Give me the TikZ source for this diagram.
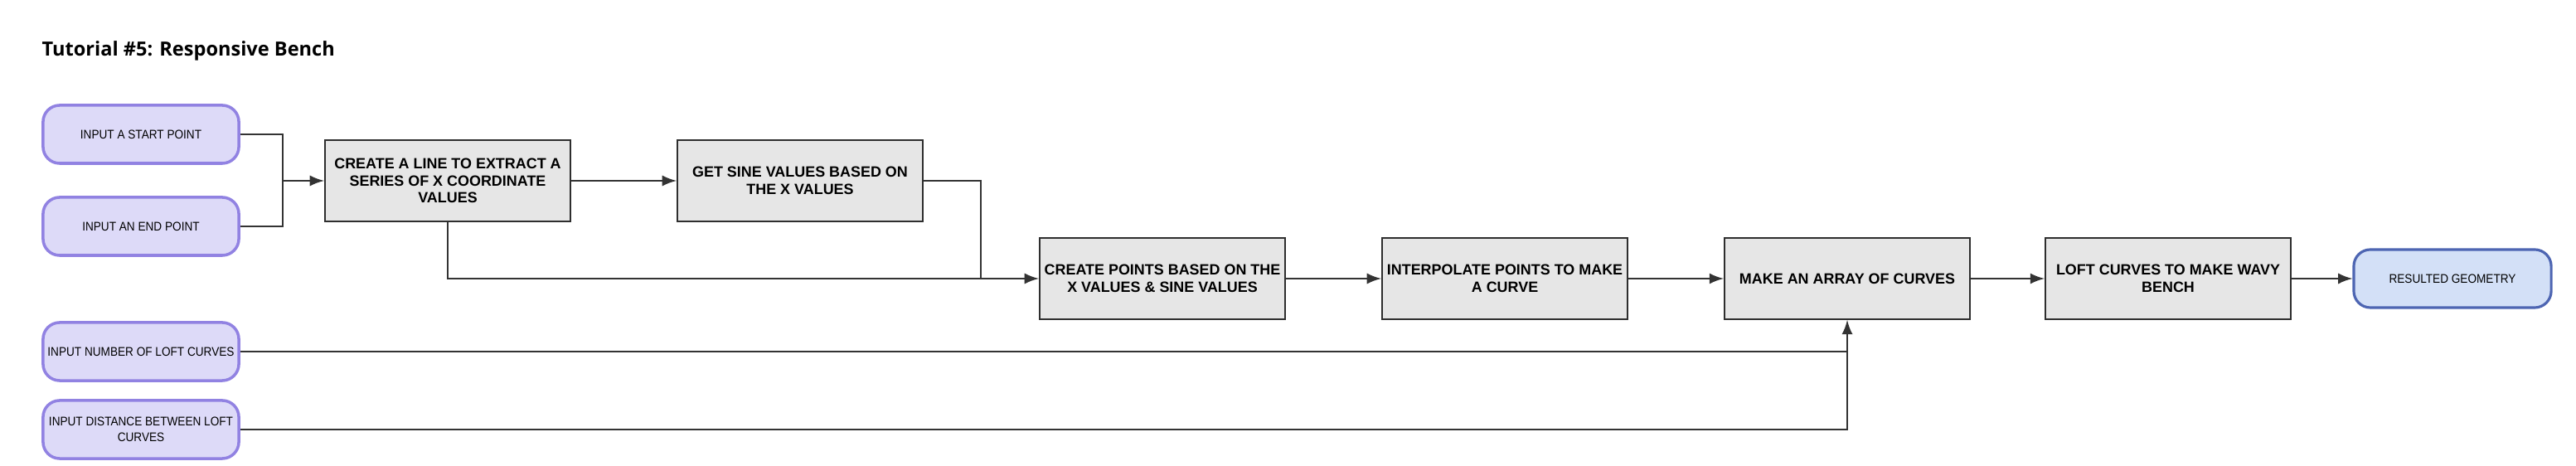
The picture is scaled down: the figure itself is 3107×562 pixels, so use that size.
\documentclass[tikz,border=0pt]{standalone}
\usepackage{fontspec}
\setmainfont{Liberation Sans}
\newfontfamily\titlefont{Open Sans}
\newfontfamily\narrowfont[FakeStretch=0.9]{Liberation Sans}
\usetikzlibrary{arrows,calc,positioning}
\tikzset{>=latex}
\definecolor{inputfill}{HTML}{DDDAF8}
\definecolor{inputdraw}{HTML}{9182E2}
\definecolor{stepfill}{HTML}{E6E6E6}
\definecolor{stepdraw}{HTML}{2E2E2E}
\definecolor{outfill}{HTML}{D3E0F7}
\definecolor{outdraw}{HTML}{4D65B2}
\definecolor{wirecol}{HTML}{333333}
\tikzstyle{inputbox}=[rectangle,draw=inputdraw,fill=inputfill,line width=1pt,minimum width=2.36cm,minimum height=0.70cm,rounded corners=0.2cm,align=center,inner sep=0.5mm,font=\narrowfont\fontsize{4.3}{5.4}\selectfont]
\tikzstyle{process}=[rectangle,draw=stepdraw,fill=stepfill,line width=0.55pt,minimum width=2.96cm,minimum height=0.98cm,align=center,inner sep=0.5mm,font=\bfseries\fontsize{5.1}{5.8}\selectfont]
\tikzstyle{result}=[rectangle,draw=outdraw,fill=outfill,line width=0.9pt,minimum width=2.38cm,minimum height=0.70cm,rounded corners=0.2cm,align=center,font=\narrowfont\fontsize{4.3}{5.4}\selectfont]
\tikzstyle{wire}=[draw=wirecol,line width=0.7pt]

\begin{document}
\begin{tikzpicture}[x=0.01cm,y=-0.01cm]
\def \inx {170};
\def \toprow {218};
\def \row {336};

\useasboundingbox (0,0) rectangle (3107,562);

\node[anchor=base west,inner sep=0pt] (title) at (50,68)
	{\titlefont\bfseries\fontsize{6.7}{8}\selectfont Tutorial \#5: Responsive Bench};

% inputs
\foreach \i/\y/\t in {1/162/{INPUT A START POINT},2/273/{INPUT AN END POINT},3/424/{INPUT NUMBER OF LOFT CURVES},4/518/{INPUT DISTANCE BETWEEN LOFT\\CURVES}} {
	\node[inputbox] (in\i) at (\inx,\y) {\t};
};

% steps
\node[process] (line) at (540,\toprow) {CREATE A LINE TO EXTRACT A\\SERIES OF X COORDINATE\\VALUES};
\node[process] (sine) at (965,\toprow) {GET SINE VALUES BASED ON\\THE X VALUES};
\node[process] (pts) at (1402,\row) {CREATE POINTS BASED ON THE\\X VALUES \& SINE VALUES};
\node[process] (interp) at (1815,\row) {INTERPOLATE POINTS TO MAKE\\A CURVE};
\node[process] (arr) at (2228,\row) {MAKE AN ARRAY OF CURVES};
\node[process] (loft) at (2615,\row) {LOFT CURVES TO MAKE WAVY\\BENCH};
\node[result] (res) at (2958,\row) {RESULTED GEOMETRY};

\coordinate (jin) at (341,\toprow);
\coordinate (jsine) at (1183,\row);

\draw[wire] (in1.east) -| (jin);
\draw[wire] (in2.east) -| (jin);
\draw[wire,->] (jin) -- (line.west);
\draw[wire,->] (line.east) -- (sine.west);
\draw[wire,->] (line.south) |- (pts.west);
\draw[wire] (sine.east) -| (jsine);

\foreach \a/\b in {pts/interp,interp/arr,arr/loft,loft/res} {
	\draw[wire,->] (\a.east) -- (\b.west);
};

\draw[wire] (in3.east) -- (in3.east -| arr.south);
\draw[wire,->] (in4.east) -| (arr.south);

\end{tikzpicture}
\end{document}
